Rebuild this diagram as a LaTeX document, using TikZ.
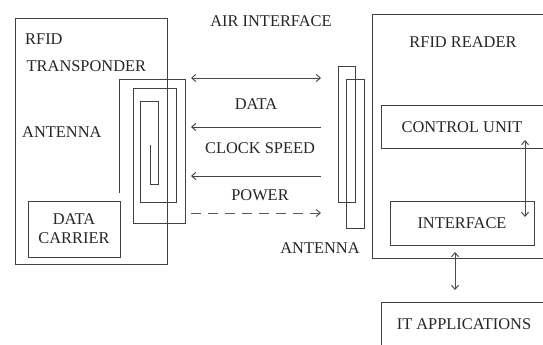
\documentclass[tikz,border=0pt]{standalone}
\usepackage{fontspec}
\setmainfont{Liberation Serif}
\usetikzlibrary{arrows.meta}
\tikzset{
  x=1pt,y=-1pt,
  box/.style={draw=black!75,line width=1pt,fill=none,inner sep=0pt,anchor=north west},
  lbl/.style={font=\fontsize{16.4}{18}\selectfont,text=black!85,inner sep=0pt,align=center},
  coil/.style={draw=black!75,line width=0.9pt},
  link/.style={draw=black!70,line width=1pt,{Straight Barb[length=4pt,width=7pt,line width=1pt]}-{Straight Barb[length=4pt,width=7pt,line width=1pt]}},
  oneway/.style={draw=black!75,line width=1pt,-{Straight Barb[length=4pt,width=7pt,line width=1pt]}},
}
\begin{document}
\begin{tikzpicture}
\useasboundingbox (0,0) rectangle (543,345);
\clip (0,0) rectangle (543,345);
\fill[white] (0,0) rectangle (543,345);
% transponder
\node[box,minimum width=152pt,minimum height=246pt] (transponder) at (15,18) {};
\node[box,minimum width=92pt,minimum height=56pt] (carrier) at (28,201) {};
\node[lbl] (carriertext) at (74,229) {DATA\\[1pt]CARRIER};
\node[lbl,anchor=west] (rfid) at (25,39) {RFID};
\node[lbl,anchor=west] (transp) at (26.5,66) {TRANSPONDER};
\node[lbl,anchor=west] (ant1) at (22,132) {ANTENNA};
% spiral antenna
\draw[coil] (119,193) -- (119,79) -- (185,79) -- (185,223) -- (133,223) -- (133,88)
  -- (176,88) -- (176,202) -- (140,202) -- (140,101) -- (158,101) -- (158,184)
  -- (150,184) -- (150,145);
% air interface
\node[lbl] (air) at (271,21) {AIR INTERFACE};
\coordinate (a1l) at (191,78); \coordinate (a1r) at (321,78);
\coordinate (a2l) at (191,127); \coordinate (a2r) at (321,127);
\coordinate (a3l) at (191,176); \coordinate (a3r) at (321,176);
\coordinate (a4l) at (191,213); \coordinate (a4r) at (321,213);
\draw[link] (a1l) -- (a1r);
\draw[oneway] (a2r) -- (a2l);
\draw[oneway] (a3r) -- (a3l);
\draw[oneway,draw=black!65,dash pattern=on 10pt off 7pt] (a4l) -- (a4r);
\node[lbl] (data) at (256,104) {DATA};
\node[lbl] (clock) at (260,148) {CLOCK SPEED};
\node[lbl] (power) at (260,195) {POWER};
% reader antenna
\node[box,coil,minimum width=17pt,minimum height=136pt] (ra1) at (338,66) {};
\node[box,coil,minimum width=18pt,minimum height=149pt] (ra2) at (346,79) {};
\node[lbl] (ant2) at (320,248) {ANTENNA};
% reader
\node[box,minimum width=190pt,minimum height=244pt] (reader) at (372,14) {};
\node[lbl] (readertext) at (463,42) {RFID READER};
\node[box,minimum width=175pt,minimum height=43pt] (control) at (381,105) {};
\node[lbl] (controltext) at (462,127) {CONTROL UNIT};
\node[box,minimum width=144pt,minimum height=44pt] (interface) at (390,201) {};
\node[lbl] (interfacetext) at (462,223) {INTERFACE};
\coordinate (c1) at (525,140); \coordinate (c2) at (525,217);
\draw[link,line width=0.8pt] (c1) -- (c2);
\coordinate (d1) at (455,252); \coordinate (d2) at (455,290);
\draw[link] (d1) -- (d2);
\node[box,minimum width=190pt,minimum height=70pt] (apps) at (381,302) {};
\node[lbl] (appstext) at (464,324) {IT APPLICATIONS};
\end{tikzpicture}
\end{document}
